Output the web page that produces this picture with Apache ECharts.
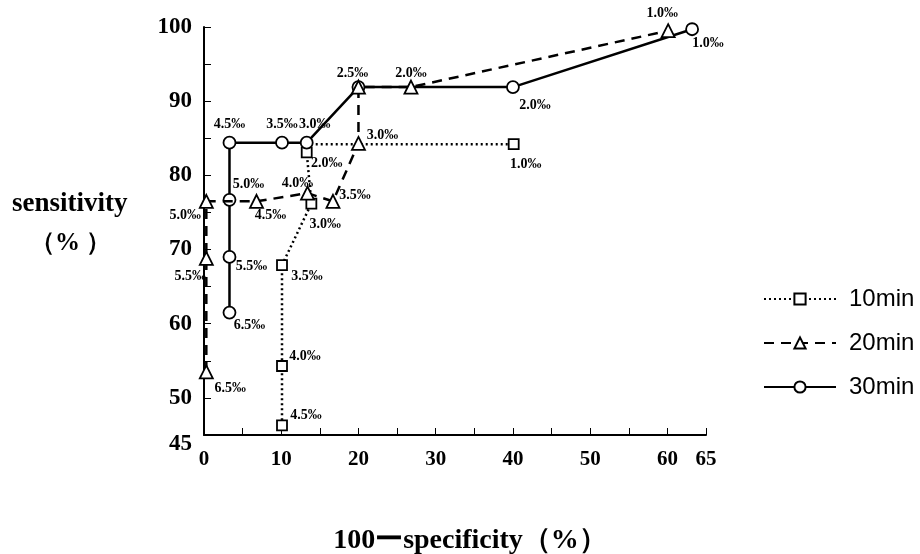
<!DOCTYPE html>
<html>
<head>
<meta charset="utf-8">
<title>ROC</title>
<script src="https://cdn.jsdelivr.net/npm/echarts@6.0.0/dist/echarts.min.js"></script>
<style>
  html, body { margin: 0; padding: 0; background: #fff; }
  #chart { width: 920px; height: 554px; }
</style>
</head>
<body>
<div id="chart"></div>
<script>
// 10min
const x10 = [10.1, 10.1, 10.1, 13.9, 13.3, 13.6, 40.1];
const y10 = [46.3, 54.3, 67.9, 76.2, 83.1, 84.2, 84.2];
const t10 = ['4.5‰', '4.0‰', '3.5‰', '3.0‰', '2.0‰', '', '1.0‰'];
// 20min
const x20 = [0.3, 0.3, 0.3, 6.8, 13.4, 16.7, 20.0, 20.0, 26.8, 60.1];
const y20 = [53.5, 68.8, 76.5, 76.5, 77.6, 76.5, 84.3, 91.9, 91.9, 99.5];
const t20 = ['6.5‰', '5.5‰', '5.0‰', '4.5‰', '4.0‰', '3.5‰', '3.0‰', '', '2.0‰', '1.0‰'];
// 30min
const x30 = [3.3, 3.3, 3.3, 3.3, 10.1, 13.3, 20.0, 40.0, 63.2];
const y30 = [61.5, 69.0, 76.7, 84.4, 84.4, 84.4, 91.9, 91.9, 99.7];
const t30 = ['6.5‰', '5.5‰', '5.0‰', '4.5‰', '3.5‰', '3.0‰', '2.5‰', '2.0‰', '1.0‰'];

const seriesNames = ['10min', '20min', '30min'];
const xTicks = [0, 10, 20, 30, 40, 50, 60, 65];
const yTicks = [45, 50, 60, 70, 80, 90, 100];

// where each threshold label sits relative to its point (px)
const off10 = [[24, -10], [23, -10], [25, 11], [14, 21], [20, 11], [0, 0], [12, 20]];
const off20 = [[24, 16], [-16, 18], [-21, 14], [14, 14], [-10, -10], [22, -6], [24, -8], [0, 0], [0, -14], [-6, -17]];
const off30 = [[20, 13], [22, 9], [19, -15], [0, -18], [0, -18], [8, -18], [-6, -14], [22, 18], [16, 14]];

const serif = '"Liberation Serif", "Times New Roman", serif';

function points(xs, ys, labels, offs) {
  return xs.map((x, i) => ({
    value: [x, ys[i]],
    // the unlabeled 10min point is hidden behind the 30min circle
    symbol: labels[i] === '' && xs === x10 ? 'none' : undefined,
    label: { formatter: labels[i], offset: offs[i] }
  }));
}

function makeSeries(name, xs, ys, labels, offs, symbol, size, dash, z) {
  return {
    name: name,
    type: 'line',
    clip: false,
    z: z,
    symbol: symbol,
    symbolSize: size,
    showAllSymbol: true,
    lineStyle: { color: '#000', width: 2.5, type: dash },
    itemStyle: { color: '#fff', borderColor: '#000', borderWidth: 1.8 },
    label: {
      show: true,
      position: 'inside',
      color: '#000',
      fontFamily: serif,
      fontWeight: 'bold',
      fontSize: 14
    },
    emphasis: { disabled: true },
    data: points(xs, ys, labels, offs)
  };
}

const chart = echarts.init(document.getElementById('chart'));
chart.setOption({
  backgroundColor: '#fff',
  animation: false,
  grid: { left: 204, right: 214, top: 27, bottom: 119, outerBoundsMode: 'none' },
  legend: {
    orient: 'vertical',
    left: 758,
    top: 282,
    itemWidth: 72,
    itemHeight: 14,
    itemGap: 20,
    data: seriesNames,
    textStyle: {
      color: '#000',
      fontFamily: '"Liberation Sans", Arial, sans-serif',
      fontSize: 24,
      padding: [0, 0, 0, 8]
    }
  },
  xAxis: {
    type: 'value',
    min: 0,
    max: 65,
    interval: 5,
    splitLine: { show: false },
    axisLine: { onZero: false, lineStyle: { color: '#000', width: 2 } },
    axisTick: { inside: true, length: 7, lineStyle: { color: '#000', width: 1 } },
    axisLabel: {
      margin: 14,
      color: '#000',
      fontFamily: serif,
      fontWeight: 'bold',
      fontSize: 21,
      showMinLabel: true,
      showMaxLabel: true,
      formatter: v => (xTicks.includes(v) ? String(v) : '')
    },
    name: '100ーspecificity（%）',
    nameLocation: 'middle',
    nameGap: 92,
    nameTextStyle: {
      color: '#000',
      fontFamily: serif,
      fontWeight: 'bold',
      fontSize: 28,
      padding: [0, 0, 0, 30]
    }
  },
  yAxis: {
    type: 'value',
    min: 45,
    max: 100,
    interval: 5,
    splitLine: { show: false },
    axisLine: { onZero: false, lineStyle: { color: '#000', width: 2 } },
    axisTick: { inside: true, length: 7, lineStyle: { color: '#000', width: 1 } },
    axisLabel: {
      margin: 12,
      color: '#000',
      fontFamily: serif,
      fontWeight: 'bold',
      fontSize: 23,
      showMinLabel: true,
      showMaxLabel: true,
      // "45" sits a little below the axis line in the original
      formatter: v => (v === 45 ? '{gap|}\n{low|45}' : (yTicks.includes(v) ? String(v) : '')),
      rich: {
        gap: { lineHeight: 18, fontSize: 2 },
        low: {
          color: '#000',
          fontFamily: serif,
          fontWeight: 'bold',
          fontSize: 23,
          lineHeight: 26
        }
      }
    }
  },
  graphic: [
    {
      type: 'text',
      left: 12,
      top: 191,
      style: {
        text: 'sensitivity',
        fill: '#000',
        font: 'bold 27px ' + serif
      }
    },
    {
      type: 'text',
      left: 30,
      top: 231,
      style: {
        text: '（% ）',
        fill: '#000',
        font: 'bold 25px ' + serif
      }
    }
  ],
  series: [
    makeSeries('10min', x10, y10, t10, off10, 'rect', 10, [2, 3], 2),
    makeSeries('20min', x20, y20, t20, off20, 'triangle', 13, [10, 7], 4),
    makeSeries('30min', x30, y30, t30, off30, 'circle', 12, 'solid', 3)
  ]
});
</script>
</body>
</html>
